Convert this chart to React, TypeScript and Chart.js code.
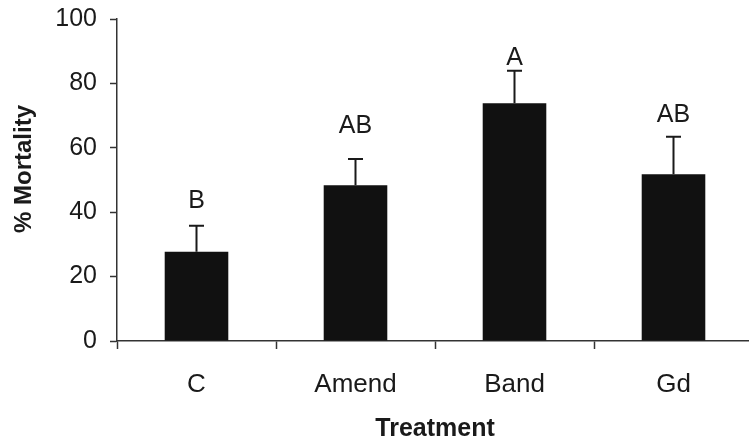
import React, { useEffect, useRef } from "react";
import Chart from "chart.js/auto";

const categories = ["C", "Amend", "Band", "Gd"];
const mortality = [27.7, 48.4, 73.8, 51.8];
const errorTop = [35.8, 56.5, 83.9, 63.4];
const groupLetters = ["B", "AB", "A", "AB"];
const letterLevel = [41.2, 64.7, 85.7, 68.1];
const yTicks = [0, 20, 40, 60, 80, 100];

const FONT = "'Liberation Sans', Arial, Helvetica, sans-serif";
const INK = "#1a1a1a";

const annotatePlugin = {
  id: "annotate",
  afterDatasetsDraw(chart: any) {
    const ctx = chart.ctx;
    const meta = chart.getDatasetMeta(0);
    const y = chart.scales.y;
    ctx.save();
    meta.data.forEach((bar: any, i: number) => {
      const x = bar.x;
      const yTop = y.getPixelForValue(mortality[i]);
      const yErr = y.getPixelForValue(errorTop[i]);
      ctx.strokeStyle = INK;
      ctx.lineWidth = 2;
      ctx.beginPath();
      ctx.moveTo(x, yTop);
      ctx.lineTo(x, yErr);
      ctx.moveTo(x - 7.5, yErr);
      ctx.lineTo(x + 7.5, yErr);
      ctx.stroke();
      ctx.fillStyle = INK;
      ctx.font = `25px ${FONT}`;
      ctx.textAlign = "center";
      ctx.textBaseline = "alphabetic";
      ctx.fillText(groupLetters[i], x, y.getPixelForValue(letterLevel[i]));
    });
    // y-axis title
    const area = chart.chartArea;
    ctx.translate(24, (area.top + area.bottom) / 2 - 11);
    ctx.rotate(-Math.PI / 2);
    ctx.font = `bold 24px ${FONT}`;
    ctx.textAlign = "center";
    ctx.textBaseline = "middle";
    ctx.fillText("% Mortality", 0, 0);
    ctx.restore();
  },
};

export default function App() {
  const ref = useRef<HTMLCanvasElement | null>(null);
  useEffect(() => {
    document.body.style.margin = "0";
    document.documentElement.style.overflow = "hidden";
    const chart = new Chart(ref.current as HTMLCanvasElement, {
      type: "bar",
      data: {
        labels: categories,
        datasets: [
          {
            data: mortality,
            backgroundColor: "#111111",
            borderWidth: 0,
            categoryPercentage: 1,
            barPercentage: 0.4,
          },
        ],
      },
      options: {
        responsive: false,
        animation: false,
        devicePixelRatio: 1,
        layout: { padding: { top: 19, right: 0, bottom: 0, left: 0 } },
        plugins: { legend: { display: false }, tooltip: { enabled: false } },
        scales: {
          x: {
            afterFit: (s: any) => {
              s.height = 106;
              s.paddingLeft = 0;
              s.paddingRight = 0;
            },
            grid: {
              display: true,
              drawOnChartArea: false,
              drawTicks: true,
              tickLength: 8,
              tickWidth: 1.5,
              tickColor: "#333",
              offset: true,
            },
            border: { display: true, color: "#333", width: 1.5 },
            ticks: {
              color: INK,
              font: { family: FONT, size: 26 },
              padding: 20,
            },
            title: {
              display: true,
              text: "Treatment",
              color: INK,
              font: { family: FONT, size: 25, weight: "bold" },
              padding: { top: 4, bottom: 3 },
            },
          },
          y: {
            min: 0,
            max: 100,
            afterFit: (s: any) => {
              s.width = 117;
              s.paddingTop = 0;
              s.paddingBottom = 0;
            },
            afterBuildTicks: (s: any) => {
              s.ticks = yTicks.map((v) => ({ value: v }));
            },
            grid: {
              display: true,
              drawOnChartArea: false,
              drawTicks: true,
              tickLength: 7,
              tickWidth: 1.5,
              tickColor: "#333",
            },
            border: { display: true, color: "#333", width: 1.5 },
            ticks: {
              color: INK,
              font: { family: FONT, size: 25 },
              padding: 13,
            },
          },
        },
      },
      plugins: [annotatePlugin],
    } as any);
    return () => chart.destroy();
  }, []);
  return (
    <div
      style={{
        position: "fixed",
        left: 0,
        top: 0,
        width: 749,
        height: 447,
        overflow: "hidden",
        background: "#fff",
      }}
    >
      <canvas ref={ref} width={753} height={447} style={{ width: 753, height: 447 }} />
    </div>
  );
}
